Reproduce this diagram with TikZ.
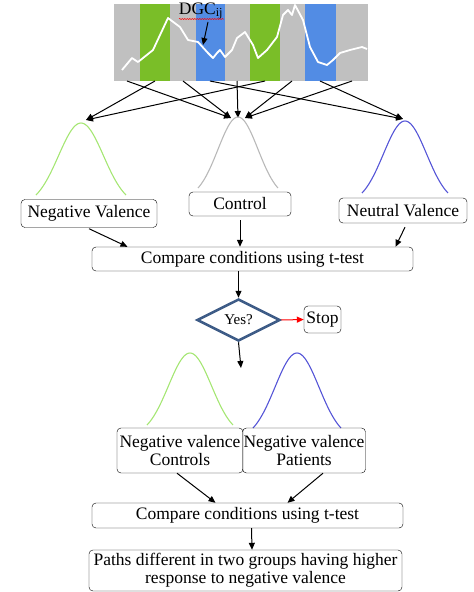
\documentclass[tikz,border=0pt]{standalone}
\usepackage{fontspec}
\setmainfont{Liberation Serif}
\usetikzlibrary{shapes.geometric,arrows.meta,decorations.pathmorphing}
\definecolor{stripgray}{RGB}{192,192,192}
\definecolor{stripgreen}{RGB}{122,190,40}
\definecolor{stripblue}{RGB}{82,140,228}
\definecolor{bellgreen}{RGB}{165,230,115}
\definecolor{bellgray}{RGB}{185,185,185}
\definecolor{bellblue}{RGB}{85,85,215}
\definecolor{decisionblue}{RGB}{62,92,135}
\newcommand{\drawbell}[5]{\draw[#1,line width=1.1pt] plot[domain=-1:1,samples=61,smooth] ({#2+#5*\x},{#4-(#4-#3)*(exp(-2*\x*\x)-0.1353)/0.8647});}

\begin{document}
\begin{tikzpicture}[x=1pt,y=-1pt]
	\tikzset{every node/.style={font=\fontsize{17.5}{18}\selectfont}}
	\tikzset{box/.style={draw,rounded corners=4pt,inner sep=1pt,align=center}}
	\tikzset{decision/.style={diamond,draw=decisionblue,line width=2.5pt,fill=white,aspect=2,minimum width=83pt,minimum height=42pt,inner sep=0pt,font=\fontsize{15}{16}\selectfont}}
	\tikzset{arr/.style={-{Triangle[length=7pt,width=6pt]},line width=1pt}}
	\useasboundingbox (0,0) rectangle (474,592);
	\foreach \xa/\xb/\c in {114/140/stripgray,140/170/stripgreen,170/196/stripgray,196/225/stripblue,225/250/stripgray,250/280/stripgreen,280/305/stripgray,305/336/stripblue,336/368/stripgray}
		\fill[\c] (\xa,4) rectangle (\xb,81);
	\draw[white,line width=1.8pt,line join=round] plot coordinates {(122,70) (132,58) (138,62) (153,50) (168,18) (180,27) (188,40) (198,42) (208,53) (213,58) (217,53) (220,50) (225,57) (232,50) (237,38) (245,32) (253,45) (258,58) (267,50) (277,37) (283,15) (288,10) (292,15) (295,5) (303,20) (310,47) (318,62) (327,65) (333,60) (340,53) (350,50) (362,47) (367,49)};
	\node (dgc) at (201,11) {DGC\textsubscript{ij}};
	\draw[red,line width=0.5pt,decorate,decoration={snake,amplitude=0.6pt,segment length=2.5pt}] (179,19) -- (224,19);
	\coordinate (dgcpt) at (203,45);
	\draw[arr] ([xshift=7pt,yshift=1pt]dgc.south) -- (dgcpt);
	\foreach \n/\xx in {1/127,2/155,3/183,4/210,5/237,6/265,7/292,8/320,9/352}
		\coordinate (s\n) at (\xx,81);
	\coordinate (tneg) at (86,120);
	\coordinate (tctla) at (231,118);
	\coordinate (tctl) at (238,118);
	\coordinate (tctlb) at (245,118);
	\coordinate (tneu) at (403,119);
	\foreach \s in {2,6} \draw[arr] (s\s) -- (tneg);
	\foreach \s in {1,3} \draw[arr] (s\s) -- (tctla);
	\draw[arr] (s5) -- (tctl);
	\foreach \s in {7,9} \draw[arr] (s\s) -- (tctlb);
	\foreach \s in {4,8} \draw[arr] (s\s) -- (tneu);
	\drawbell{bellgreen}{81}{123}{195}{45}
	\drawbell{bellgray}{238}{117}{188}{40}
	\drawbell{bellblue}{405}{121}{193}{43}
	\node[box,minimum width=136pt,minimum height=28pt] (negval) at (89,213.5) {Negative Valence};
	\node[box,minimum width=102pt,minimum height=24pt] (ctrl) at (240,204) {Control};
	\node[box,minimum width=128pt,minimum height=25pt] (neuval) at (403,210.5) {Neutral Valence};
	\node[box,minimum width=321pt,minimum height=24pt] (cmpa) at (252.5,259) {Compare conditions using t-test};
	\draw[arr] ([yshift=-1pt]negval.south) -- ([xshift=-125pt]cmpa.north);
	\draw[arr] ([yshift=-4pt]ctrl.south) -- (ctrl.south |- cmpa.north);
	\draw[arr] ([xshift=2pt,yshift=-4pt]neuval.south) -- ([xshift=143pt]cmpa.north);
	\node[decision] (yes) at (238.5,320) {Yes?};
	\node[box,minimum width=37pt,minimum height=27pt] (stop) at (322.5,319.5) {Stop};
	\draw[arr] (yes.north |- cmpa.south) -- (yes.north);
	\draw[arr,red] (yes.east) -- (stop.west);
	\coordinate (split) at (241,368);
	\draw[arr] (yes.south) -- (split);
	\drawbell{bellgreen}{190}{353}{425}{43}
	\drawbell{bellblue}{297}{353}{428}{44}
	\node[box,minimum width=126pt,minimum height=45pt] (negctl) at (180,450.5) {Negative valence\\Controls};
	\node[box,minimum width=122pt,minimum height=45pt] (negpat) at (304,450.5) {Negative valence\\Patients};
	\node[box,minimum width=311pt,minimum height=25pt] (cmpb) at (247.5,515.5) {Compare conditions using t-test};
	\node[box,minimum width=313pt,minimum height=41pt] (result) at (245.5,570.5) {Paths different in two groups having higher\\response to negative valence};
	\draw[arr] ([xshift=-3pt]negctl.south) -- ([xshift=-32pt]cmpb.north);
	\draw[arr] ([xshift=19pt]negpat.south) -- ([xshift=40pt]cmpb.north);
	\draw[arr] ([xshift=4pt]cmpb.south) -- ([xshift=6.5pt]result.north);
\end{tikzpicture}
\end{document}
